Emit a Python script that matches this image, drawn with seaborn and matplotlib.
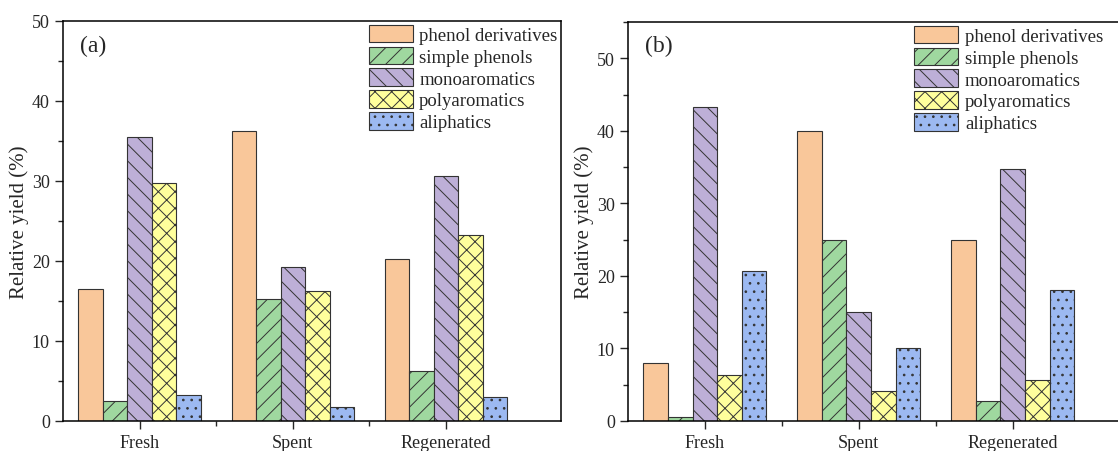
import pandas as pd
import seaborn as sns
import matplotlib.pyplot as plt
from matplotlib.ticker import MultipleLocator

# Data
samples = ['Fresh', 'Spent', 'Regenerated']
groups = ['phenol derivatives', 'simple phenols', 'monoaromatics', 'polyaromatics', 'aliphatics']

# panel (a)
a_phenol_deriv = [16.5, 36.2, 20.2]
a_simple_phen = [2.5, 15.3, 6.3]
a_monoarom = [35.5, 19.3, 30.6]
a_polyarom = [29.8, 16.2, 23.2]
a_aliphatic = [3.3, 1.7, 3.0]

# panel (b)
b_phenol_deriv = [8.0, 40.0, 25.0]
b_simple_phen = [0.55, 25.0, 2.7]
b_monoarom = [43.3, 15.0, 34.7]
b_polyarom = [6.3, 4.1, 5.6]
b_aliphatic = [20.7, 10.1, 18.0]

colors = ['#F9C79A', '#9FD89F', '#BDAFD7', '#FFFF9C', '#9CB9F1']
hatches = ['', '//', '\\\\', 'xx', '..']

sns.set_style('ticks')
plt.rcParams['font.family'] = ['Liberation Serif', 'DejaVu Serif']
plt.rcParams['hatch.linewidth'] = 0.7
plt.rcParams['hatch.color'] = '#333333'


def long_table(cols):
    rows = []
    for g, vals in zip(groups, cols):
        for s, v in zip(samples, vals):
            rows.append({'Sample': s, 'Group': g, 'Yield': v})
    return pd.DataFrame(rows)


df_a = long_table([a_phenol_deriv, a_simple_phen, a_monoarom, a_polyarom, a_aliphatic])
df_b = long_table([b_phenol_deriv, b_simple_phen, b_monoarom, b_polyarom, b_aliphatic])

fig = plt.figure(figsize=(11.18, 4.52), dpi=100)
ax1 = fig.add_axes([63 / 1118, 30 / 452, 498 / 1118, 400 / 452])
ax2 = fig.add_axes([628 / 1118, 30 / 452, 500 / 1118, 399 / 452])


def draw_panel(ax, df, ymax, tag, leg_x):
    sns.barplot(data=df, x='Sample', y='Yield', hue='Group', hue_order=groups,
                order=samples, palette=colors, saturation=1, width=0.8,
                edgecolor='#333333', linewidth=0.8, ax=ax, legend=True)
    for cont, h in zip(ax.containers, hatches):
        for bar in cont:
            bar.set_hatch(h)
    ax.set_xlim(-0.5, 2.75)
    ax.set_ylim(0, ymax)
    ax.yaxis.set_major_locator(MultipleLocator(10))
    ax.yaxis.set_minor_locator(MultipleLocator(5))
    ax.set_xticks([0.5, 1.5], minor=True)
    ax.tick_params(axis='both', which='major', length=6, width=1, labelsize=13, direction='out')
    ax.tick_params(axis='both', which='minor', length=3.5, width=1, direction='out')
    ax.set_xlabel('')
    ax.set_ylabel('Relative yield (%)', fontsize=15, labelpad=2)
    for sp in ax.spines.values():
        sp.set_visible(True)
        sp.set_linewidth(1.1)
        sp.set_color('black')
    ax.text(0.034, 0.94, tag, transform=ax.transAxes, fontsize=17, va='center', ha='left')
    handles, labels = ax.get_legend_handles_labels()
    for hd, h in zip(handles, hatches):
        hd.set_hatch(h)
        hd.set_edgecolor('#333333')
    ax.legend(handles, labels, loc='upper left', bbox_to_anchor=(leg_x, 1.0),
              frameon=False, fontsize=13.5, borderpad=0.2, borderaxespad=0,
              handlelength=2.35, handleheight=1.07, labelspacing=0.14, handletextpad=0.35)


draw_panel(ax1, df_a, 50, '(a)', 0.606)
draw_panel(ax2, df_b, 55, '(b)', 0.565)

fig.savefig('out.png', dpi=100)
